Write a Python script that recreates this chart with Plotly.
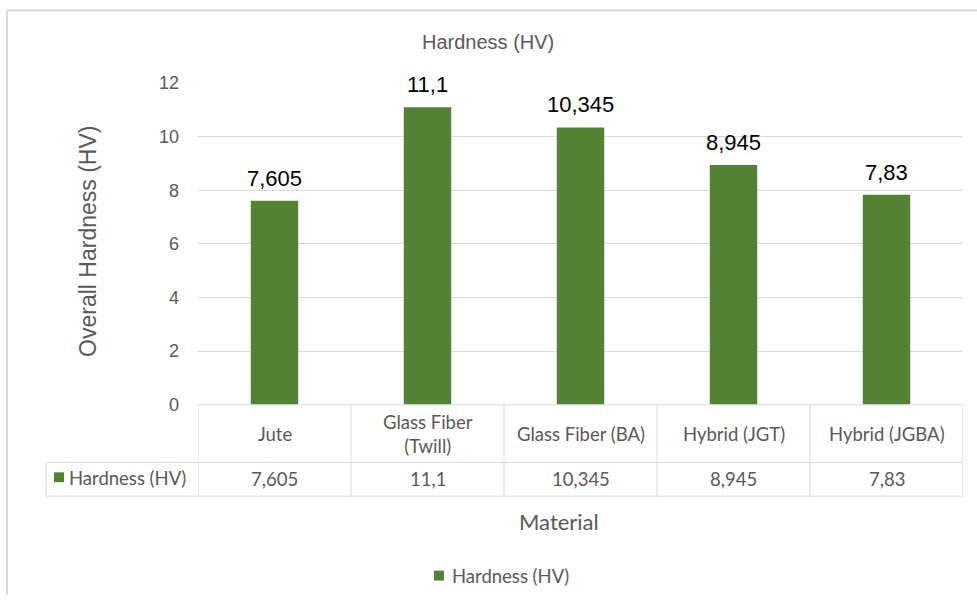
import plotly.graph_objects as go

# Material hardness data
materials = ["Jute", "Glass Fiber (Twill)", "Glass Fiber (BA)", "Hybrid (JGT)", "Hybrid (JGBA)"]
header_labels = ["Jute", "Glass Fiber<br>(Twill)", "Glass Fiber (BA)", "Hybrid (JGT)", "Hybrid (JGBA)"]
hardness = [7.605, 11.1, 10.345, 8.945, 7.83]
y_ticks = [0, 2, 4, 6, 8, 10, 12]
series_name = "Hardness (HV)"

W, H = 977, 605
GREEN = "#548235"
GRID = "#d9d9d9"
TXT = "#595959"
TABLE_FONT = dict(family="Lato", size=18.5, color=TXT)

# vertical layout offset/scale used to place elements on the page
Y0, YS = 7.5, 0.9736


def px(x):
    return x / W


def py(y):
    return 1 - ((y - Y0) / YS) / H


labels = [f"{v:g}".replace(".", ",") for v in hardness]

fig = go.Figure()
fig.add_trace(go.Bar(
    x=materials, y=hardness, name=series_name,
    marker=dict(color=GREEN, line=dict(width=0)),
    width=0.31, showlegend=False,
))

# Plot area: y=0 at 405px, y=12 at 81px; columns span 198..963px
fig.update_layout(
    width=W, height=H, autosize=False,
    margin=dict(l=0, r=0, t=0, b=0),
    paper_bgcolor="white", plot_bgcolor="white",
    xaxis=dict(domain=[px(198), px(963)], range=[-0.5, 4.5], showticklabels=False,
               showgrid=False, zeroline=False, showline=False, ticks=""),
    yaxis=dict(domain=[py(405), py(81)], range=[0, 12], tickvals=y_ticks,
               showgrid=True, gridcolor=GRID, gridwidth=1, zeroline=False,
               showline=False, ticks="", ticklabelstandoff=18,
               tickfont=dict(family="Liberation Sans", size=18, color=TXT)),
    showlegend=False,
)

shapes = []
# Outer chart border (top and left)
shapes.append(dict(type="line", xref="paper", yref="paper", x0=px(7), x1=1, y0=py(8), y1=py(8),
                   line=dict(color=GRID, width=2)))
shapes.append(dict(type="line", xref="paper", yref="paper", x0=px(7), x1=px(7), y0=py(8), y1=0,
                   line=dict(color=GRID, width=2)))

# Data table grid
for i in range(6):
    shapes.append(dict(type="line", xref="x", yref="paper", x0=i - 0.5, x1=i - 0.5,
                       y0=py(405), y1=py(497), line=dict(color=GRID, width=1)))
shapes.append(dict(type="line", xref="paper", yref="paper", x0=px(46), x1=px(46),
                   y0=py(463), y1=py(497), line=dict(color=GRID, width=1)))
shapes.append(dict(type="line", xref="paper", yref="paper", x0=px(198), x1=px(963),
                   y0=py(405), y1=py(405), line=dict(color=GRID, width=1)))
for yy in (463, 497):
    shapes.append(dict(type="line", xref="paper", yref="paper", x0=px(46), x1=px(963),
                       y0=py(yy), y1=py(yy), line=dict(color=GRID, width=1)))
# Legend key inside the table
shapes.append(dict(type="rect", xref="paper", yref="paper", x0=px(54), x1=px(64),
                   y0=py(483), y1=py(473), fillcolor=GREEN, line=dict(width=0)))
# Legend key below the chart
shapes.append(dict(type="rect", xref="paper", yref="paper", x0=px(434), x1=px(444),
                   y0=py(582), y1=py(572), fillcolor=GREEN, line=dict(width=0)))
fig.update_layout(shapes=shapes)

ann = []
# Value labels above each bar
for m, v, lab in zip(materials, hardness, labels):
    ann.append(dict(x=m, y=v, xref="x", yref="y", text=lab, showarrow=False,
                    xanchor="center", yanchor="bottom", yshift=8,
                    font=dict(family="Liberation Sans", size=22, color="#000000")))

# Data table contents
for m, hl, lab in zip(materials, header_labels, labels):
    ann.append(dict(x=m, y=py(434), xref="x", yref="paper", text=hl,
                    showarrow=False, font=TABLE_FONT, xanchor="center", yanchor="middle"))
    ann.append(dict(x=m, y=py(480), xref="x", yref="paper", text=lab,
                    showarrow=False, font=TABLE_FONT, xanchor="center", yanchor="middle"))
ann.append(dict(x=px(67), y=py(479), xref="paper", yref="paper", text=series_name,
                showarrow=False, font=TABLE_FONT, xanchor="left", yanchor="middle"))

# Bottom legend text
ann.append(dict(x=px(450), y=py(577), xref="paper", yref="paper", text=series_name,
                showarrow=False, font=TABLE_FONT, xanchor="left", yanchor="middle"))

# Titles
ann.append(dict(x=px(488), y=py(40), xref="paper", yref="paper", text="Hardness (HV)",
                showarrow=False, font=dict(family="Liberation Sans", size=20, color=TXT),
                xanchor="center", yanchor="middle"))
ann.append(dict(x=px(88), y=py(241), xref="paper", yref="paper", text="Overall Hardness (HV)",
                showarrow=False, textangle=-90,
                font=dict(family="Liberation Sans", size=23, color=TXT),
                xanchor="center", yanchor="middle"))
ann.append(dict(x=px(559), y=py(523), xref="paper", yref="paper", text="Material",
                showarrow=False, font=dict(family="Lato", size=22, color=TXT),
                xanchor="center", yanchor="middle"))
fig.update_layout(annotations=ann)

fig.write_html("out.html", config={"responsive": False})
